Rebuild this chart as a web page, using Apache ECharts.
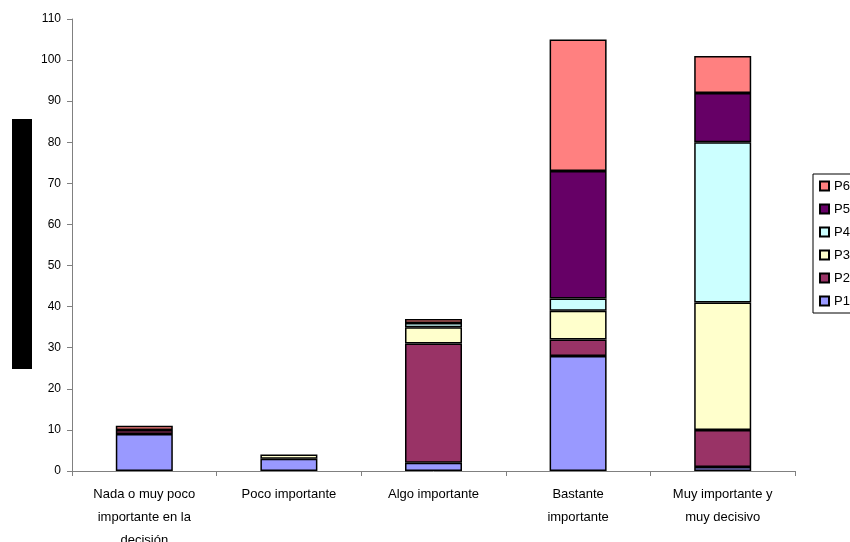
<!DOCTYPE html>
<html>
<head>
<meta charset="utf-8">
<script src="https://cdn.jsdelivr.net/npm/echarts@6/dist/echarts.min.js"></script>
<style>
  html, body { margin: 0; padding: 0; background: #fff; }
  #chart { width: 850px; height: 542px; }
</style>
</head>
<body>
<div id="chart"></div>
<script>
// Response categories (x axis)
const categories = [
  'Nada o muy poco\nimportante en la\ndecisión',
  'Poco importante',
  'Algo importante',
  'Bastante\nimportante',
  'Muy importante y\nmuy decisivo'
];

// Counts per question, stacked bottom (P1) to top (P6)
const P1 = [9, 3, 2, 28, 1];
const P2 = [1, 0, 29, 4, 9];
const P3 = [0, 1, 4, 7, 31];
const P4 = [0, 0, 1, 3, 39];
const P5 = [0, 0, 0, 31, 12];
const P6 = [1, 0, 1, 32, 9];

const seriesNames = ['P1', 'P2', 'P3', 'P4', 'P5', 'P6'];
const seriesValues = [P1, P2, P3, P4, P5, P6];
const seriesColors = ['#9999FF', '#993366', '#FFFFCC', '#CCFFFF', '#660066', '#FF8080'];

const yTicks = { min: 0, max: 110, interval: 10 };

const chart = echarts.init(document.getElementById('chart'), null, { renderer: 'canvas' });

const font = 'Arial, "Liberation Sans", sans-serif';

chart.setOption({
  animation: false,
  backgroundColor: '#ffffff',
  textStyle: { fontFamily: font },
  grid: { left: 72, right: 55, top: 19, bottom: 71, containLabel: false, outerBoundsMode: 'none' },
  legend: {
    orient: 'vertical',
    left: 813,
    top: 174,
    data: seriesNames.slice().reverse(),
    itemWidth: 9,
    itemHeight: 9,
    itemGap: 9,
    padding: [5, 6, 5, 6],
    borderColor: '#000',
    borderWidth: 1,
    icon: 'rect',
    textStyle: { fontFamily: font, fontSize: 13, lineHeight: 14, color: '#000', padding: [0, 0, 0, 0] },
    selectedMode: false
  },
  xAxis: {
    type: 'category',
    data: categories,
    axisLine: { lineStyle: { color: '#808080', width: 1 } },
    axisTick: { show: true, length: 5, lineStyle: { color: '#808080' } },
    axisLabel: {
      color: '#000',
      fontFamily: font,
      fontSize: 13,
      lineHeight: 23,
      margin: 12,
      interval: 0
    }
  },
  yAxis: {
    type: 'value',
    min: yTicks.min,
    max: yTicks.max,
    interval: yTicks.interval,
    splitLine: { show: false },
    axisLine: { show: true, lineStyle: { color: '#808080', width: 1 } },
    axisTick: { show: true, length: 5, lineStyle: { color: '#808080' } },
    axisLabel: { color: '#000', fontFamily: font, fontSize: 12, margin: 11 }
  },
  series: seriesNames.map((name, i) => ({
    name: name,
    type: 'bar',
    stack: 'total',
    barWidth: 57,
    data: seriesValues[i].map(v => (v === 0 ? null : v)),
    itemStyle: { color: seriesColors[i], borderColor: '#000', borderWidth: 1.5 }
  })),
  graphic: [
    {
      type: 'rect',
      shape: { x: 12, y: 119, width: 20, height: 250 },
      style: { fill: '#000' },
      z: 100
    }
  ]
});
</script>
</body>
</html>
